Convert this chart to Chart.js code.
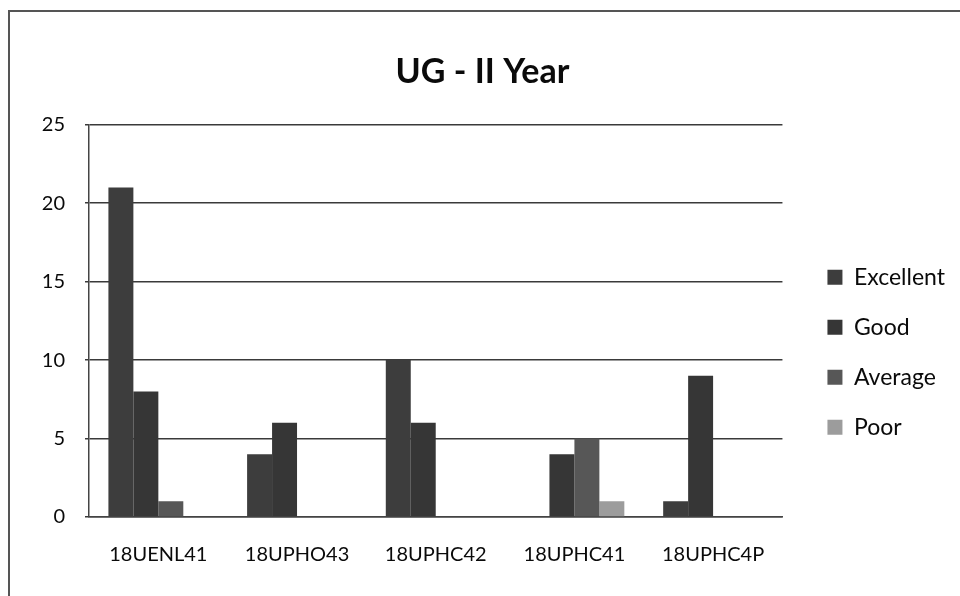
<!DOCTYPE html>
<html>
<head>
<meta charset="utf-8">
<script src="https://cdn.jsdelivr.net/npm/chart.js@4.4.1/dist/chart.umd.min.js"></script>
<style>
    html, body {
        margin: 0;
        padding: 0;
        background: #ffffff;
    }
    #frame {
        position: absolute;
        left: 8px;
        top: 10px;
        width: 950px;
        height: 584px;
        border-top: 2px solid #555555;
        border-left: 2px solid #555555;
    }
</style>
</head>
<body>
<div id="frame">
    <canvas id="ugChart" width="950" height="584"></canvas>
</div>
<script>
/* chart data */

const courses = ["18UENL41", "18UPHO43", "18UPHC42", "18UPHC41", "18UPHC4P"];
const excellent = [21, 4, 10, 0, 1];
const good = [8, 6, 6, 4, 9];
const average = [1, 0, 0, 5, 0];
const poor = [0, 0, 0, 1, 0];
const yTicks = [0, 5, 10, 15, 20, 25];

const fontName = "Lato, 'Open Sans', sans-serif";

const canvas = document.querySelector("#ugChart");

new Chart(canvas, {
    type: "bar",
    data: {
        labels: courses,
        datasets: [
            { label: "Excellent", data: excellent, backgroundColor: "#3d3d3d" },
            { label: "Good", data: good, backgroundColor: "#363636" },
            { label: "Average", data: average, backgroundColor: "#575757" },
            { label: "Poor", data: poor, backgroundColor: "#9c9c9c" }
        ]
    },
    options: {
        responsive: false,
        animation: false,
        datasets: {
            bar: {
                categoryPercentage: 0.72,
                barPercentage: 1.0,
                borderWidth: 0
            }
        },
        layout: {
            padding: { top: 40, right: 5, bottom: 0, left: 0 }
        },
        plugins: {
            title: {
                display: true,
                text: "UG - II Year",
                color: "#0a0a0a",
                font: { family: fontName, size: 34, weight: "bold" },
                padding: { top: 0, bottom: 32 }
            },
            legend: {
                position: "right",
                title: {
                    display: true,
                    text: " ",
                    font: { size: 12 },
                    padding: 21
                },
                labels: {
                    color: "#0a0a0a",
                    font: { family: fontName, size: 23 },
                    boxWidth: 15,
                    boxHeight: 15,
                    padding: 27
                }
            },
            tooltip: { enabled: false }
        },
        scales: {
            x: {
                grid: { display: false },
                border: { color: "#444444", width: 1.5 },
                ticks: {
                    color: "#0a0a0a",
                    font: { family: fontName, size: 20 },
                    padding: 18,
                    maxRotation: 0
                },
                afterFit: scale => { scale.height = 79; }
            },
            y: {
                min: 0,
                max: 25,
                afterBuildTicks: scale => {
                    scale.ticks = yTicks.map(v => ({ value: v }));
                },
                grid: { color: "#3a3a3a", lineWidth: 1.5, drawTicks: true, tickLength: 4 },
                border: { color: "#444444", width: 1.5 },
                ticks: {
                    color: "#0a0a0a",
                    font: { family: fontName, size: 20 },
                    padding: 20
                },
                afterFit: scale => { scale.width = 79; }
            },
            gap: {
                type: "linear",
                position: "right",
                display: true,
                grid: { display: false },
                border: { display: false },
                ticks: { display: false },
                afterFit: scale => { scale.width = 18; }
            }
        }
    }
});
</script>
</body>
</html>
